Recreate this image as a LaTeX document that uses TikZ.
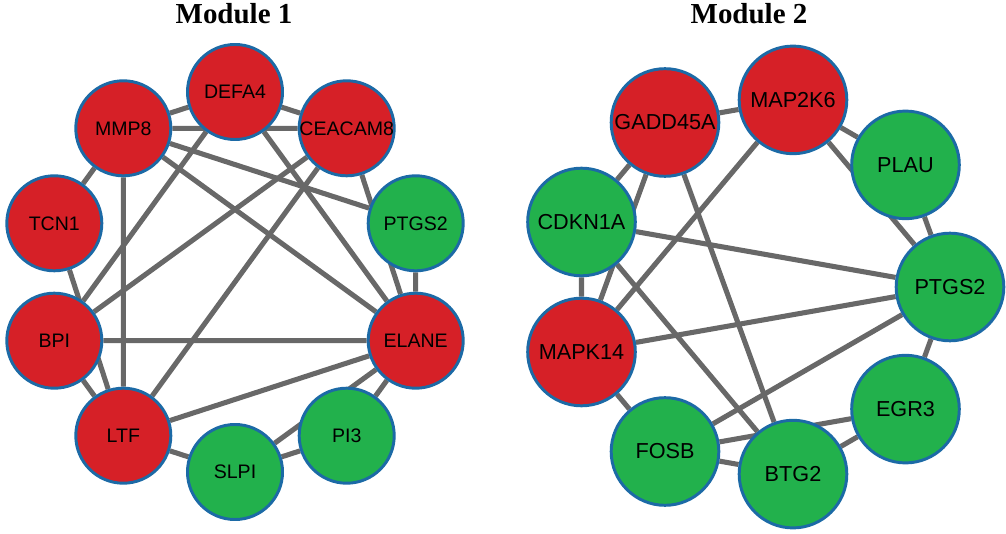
\documentclass[tikz,border=0pt]{standalone}
\usepackage{fontspec}
\setmainfont{Liberation Serif}
\newfontfamily\genefont{Liberation Sans}
\usepackage{tikz}
\usetikzlibrary{backgrounds}
\definecolor{upred}{RGB}{214,32,39}
\definecolor{downgreen}{RGB}{34,177,76}
\definecolor{rimblue}{RGB}{28,106,166}
\definecolor{linkgray}{RGB}{104,104,104}

\begin{document}
\begin{tikzpicture}[x=0.025cm,y=0.025cm,
  gene/.style={circle,draw=rimblue,line width=2.1pt,inner sep=0pt,text=black},
  smallgene/.style={gene,minimum size=2.375cm,font=\genefont\fontsize{13.9}{16}\selectfont},
  largegene/.style={gene,minimum size=2.69cm,font=\genefont\fontsize{15.4}{18}\selectfont},
  up/.style={fill=upred},
  down/.style={fill=downgreen},
  link/.style={linkgray,line width=3.6pt},
  modtitle/.style={font=\bfseries\fontsize{20.6}{24}\selectfont,anchor=base}]
\useasboundingbox (0,0) rectangle (1006,533);
% titles
\node[modtitle] (t1) at (234,509) {Module 1};
\node[modtitle] (t2) at (749,509) {Module 2};
% module 1
\node[smallgene,up] (defa) at (235,441) {DEFA4};
\node[smallgene,up] (ceacam) at (346.7,404.7) {\makebox[0pt]{CEACAM8}};
\node[smallgene,down] (ptgsA) at (415.7,309.7) {PTGS2};
\node[smallgene,up] (elane) at (415.7,192.3) {ELANE};
\node[smallgene,down] (pi) at (346.7,97.3) {PI3};
\node[smallgene,down] (slpi) at (235,61) {SLPI};
\node[smallgene,up] (ltf) at (123.3,97.3) {LTF};
\node[smallgene,up] (bpi) at (54.3,192.3) {BPI};
\node[smallgene,up] (tcn) at (54.3,309.7) {TCN1};
\node[smallgene,up] (mmp) at (123.3,404.7) {MMP8};
% module 2
\node[largegene,down] (ptgsB) at (950,246) {PTGS2};
\node[largegene,down] (plau) at (905.5,368.1) {PLAU};
\node[largegene,up] (mapk) at (793,433.1) {MAP2K6};
\node[largegene,up] (gadd) at (665,410.5) {GADD45A};
\node[largegene,down] (cdkn) at (581.5,311) {CDKN1A};
\node[largegene,up] (mapkf) at (581.5,181) {MAPK14};
\node[largegene,down] (fosb) at (665,81.5) {FOSB};
\node[largegene,down] (btg) at (793,58.9) {BTG2};
\node[largegene,down] (egr) at (905.5,123.9) {EGR3};
\begin{scope}[on background layer]
% module 1 links
\draw[link] (mmp) -- (defa) (defa) -- (ceacam) (mmp) -- (ceacam);
\draw[link] (mmp) -- (tcn) (mmp) -- (ltf) (mmp) -- (ptgsA) (mmp) -- (elane);
\draw[link] (defa) -- (bpi) (defa) -- (elane);
\draw[link] (ceacam) -- (bpi) (ceacam) -- (ltf) (ceacam) -- (elane);
\draw[link] (ptgsA) -- (elane) (bpi) -- (elane) (tcn) -- (ltf) (bpi) -- (ltf);
\draw[link] (ltf) -- (elane) (ltf) -- (slpi) (slpi) -- (pi) (slpi) -- (elane) (pi) -- (elane);
% module 2 links
\draw[link] (gadd) -- (mapk) (mapk) -- (plau) (mapk) -- (ptgsB) (plau) -- (ptgsB);
\draw[link] (gadd) -- (cdkn) (gadd) -- (mapkf) (gadd) -- (btg) (mapk) -- (mapkf);
\draw[link] (cdkn) -- (mapkf) (cdkn) -- (ptgsB) (cdkn) -- (btg);
\draw[link] (mapkf) -- (ptgsB) (mapkf) -- (fosb) (ptgsB) -- (fosb) (ptgsB) -- (egr);
\draw[link] (fosb) -- (egr) (fosb) -- (btg) (btg) -- (egr);
\end{scope}
\end{tikzpicture}
\end{document}
